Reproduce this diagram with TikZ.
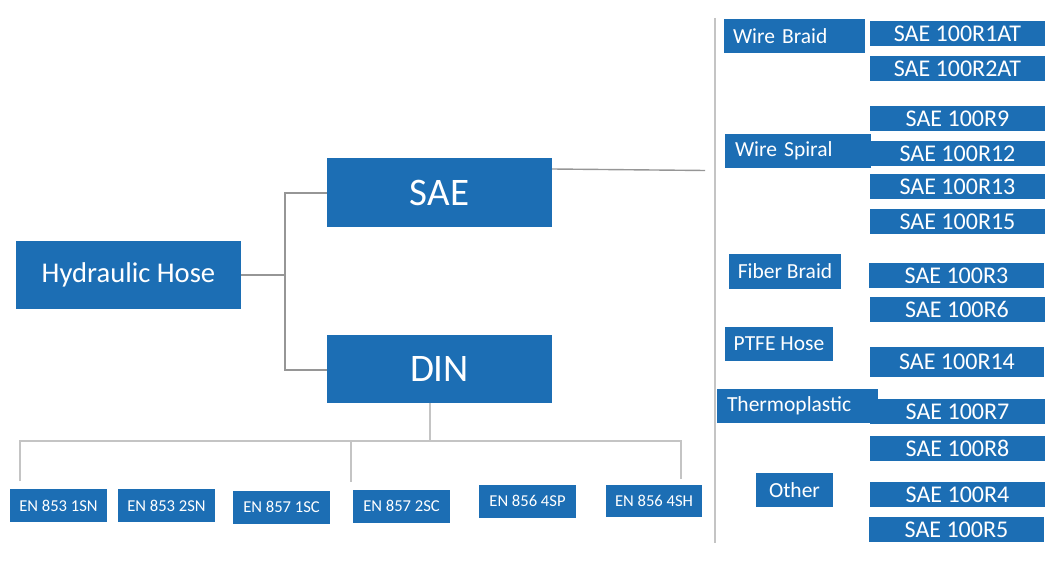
\documentclass[tikz,border=0pt]{standalone}
\usepackage{fontspec}
\setmainfont{Carlito}
\definecolor{hblue}{RGB}{28,110,180}
\definecolor{lgray}{RGB}{196,196,196}
\definecolor{mgray}{RGB}{150,150,150}
\tikzset{
  box/.style={fill=hblue, text=white, inner sep=0pt, anchor=center},
  big/.style={box, minimum width=225pt, minimum height=68pt},
  enbox/.style={box, minimum width=97pt, minimum height=33pt, font=\fontsize{16.6}{18}\selectfont},
  rbox/.style={box, minimum width=175pt, minimum height=25pt, font=\fontsize{24}{26}\selectfont},
  cbox/.style={box, minimum height=34pt, font=\fontsize{21.5}{23}\selectfont},
  lline/.style={draw=lgray, line width=2pt},
  mline/.style={draw=mgray, line width=1.6pt},
}
\begin{document}
\begin{tikzpicture}[x=1pt,y=-1pt]
\useasboundingbox (0,0) rectangle (1060,561);
% main boxes
\node[big, font=\fontsize{28.6}{31}\selectfont] (hose) at (128.5,275) {Hydraulic Hose};
\node[big, minimum height=69pt, font=\fontsize{39}{42}\selectfont] (sae) at (439.5,192.5) {SAE};
\node[big, font=\fontsize{39}{42}\selectfont] (din) at (439.5,369) {DIN};
% EN boxes
\node[enbox] (en1) at (58.5,505.5) {EN 853 1SN};
\node[enbox] (en2) at (166.5,505.5) {EN 853 2SN};
\node[enbox] (en3) at (281.5,507) {EN 857 1SC};
\node[enbox] (en4) at (401.5,506) {EN 857 2SC};
\node[enbox] (en5) at (527.5,501) {EN 856 4SP};
\node[enbox, minimum width=96pt, minimum height=32pt] (en6) at (654,501) {EN 856 4SH};
% SAE subtypes
\node[rbox] (r1at) at (957.5,33.5) {SAE 100R1AT};
\node[rbox] (r2at) at (957.5,68.5) {SAE 100R2AT};
\node[rbox] (r9) at (957.5,119) {SAE 100R9};
\node[rbox] (r12) at (957.5,153.5) {SAE 100R12};
\node[rbox] (r13) at (957.5,187) {SAE 100R13};
\node[rbox] (r15) at (957.5,222) {SAE 100R15};
\node[rbox] (r3) at (956.5,275.5) {SAE 100R3};
\node[rbox] (r6) at (957,309.5) {SAE 100R6};
\node[rbox, minimum width=174pt, minimum height=30pt] (r14) at (957,362) {SAE 100R14};
\node[rbox] (r7) at (957.5,411.5) {SAE 100R7};
\node[rbox] (r8) at (957.5,448.5) {SAE 100R8};
\node[rbox] (r4) at (957.5,494.5) {SAE 100R4};
\node[rbox] (r5) at (956.5,529.5) {SAE 100R5};
% categories
\node[cbox, minimum width=141pt, text width=123pt, align=left] (wb) at (794.5,36) {\mbox{Wire Braid}};
\node[cbox, minimum width=146pt, text width=126pt, align=left] (ws) at (798,151) {\mbox{Wire Spiral}};
\node[cbox, minimum width=112pt, minimum height=35pt] (fb) at (785,271.5) {Fiber Braid};
\node[cbox, minimum width=108pt] (ptfe) at (779,344) {PTFE Hose};
\node[cbox, minimum width=161pt, text width=141pt, align=left] (thermo) at (797.5,406) {Thermoplastic};
\node[cbox, minimum width=77pt] (other) at (794.5,490) {Other};
% connectors
\coordinate (j) at (285,275);
\draw[mline] (hose.east) -- (j);
\draw[mline] (sae.west |- 0,193) -- (285,193) -- (285,370) -- (din.west |- 0,370);
\coordinate (saeend) at (705,170.5);
\draw[draw=mgray, line width=1.4pt] (sae.east |- 0,169) -- (saeend);
% separator
\draw[lline] (715,18) -- (715,543);
% DIN tree
\coordinate (dj) at (430,441);
\draw[lline] ([xshift=-9.5pt]din.south) -- (dj);
\draw[lline] (20,481) -- (20,441) -- (681,441) -- (681,479);
\draw[lline] (351,441) -- (351,482);
\end{tikzpicture}
\end{document}
